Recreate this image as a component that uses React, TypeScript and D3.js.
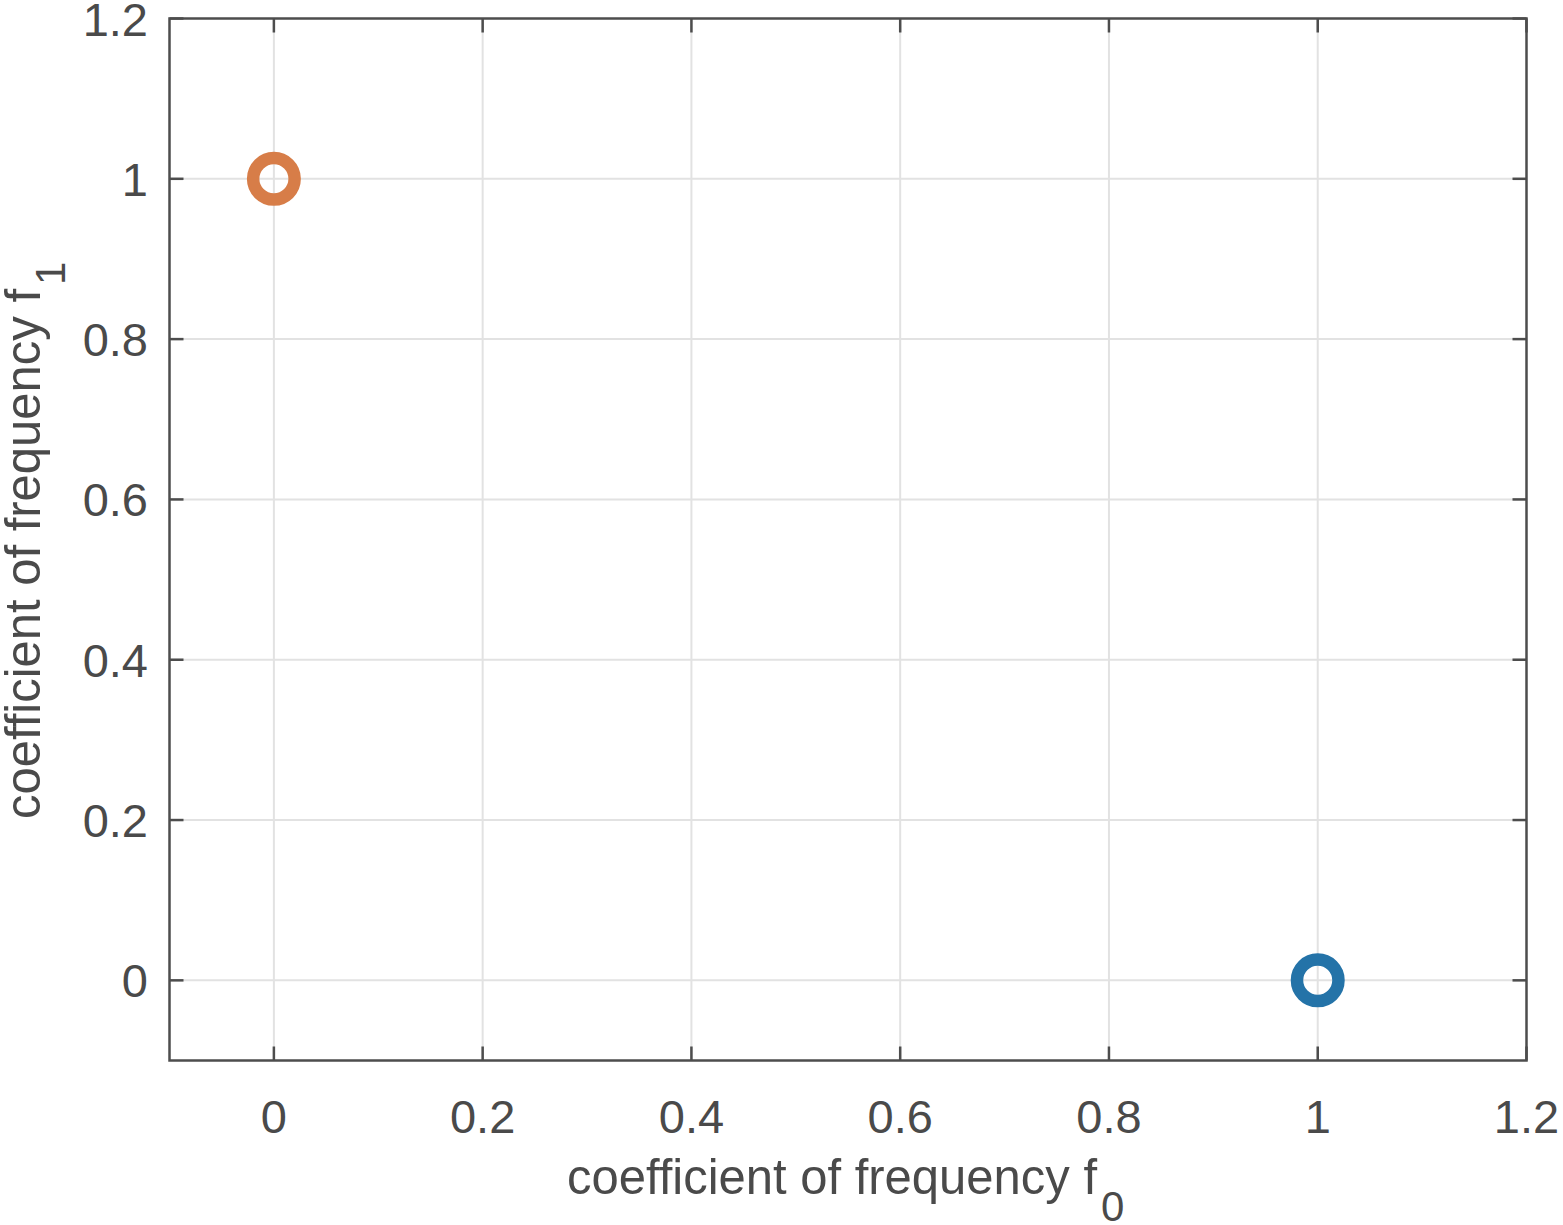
import React from "react";
import * as d3 from "d3";

const pointsX = [1, 0];
const pointsY = [0, 1];
const pointColors = ["#2473A8", "#D77D48"];
const xTicks = [0, 0.2, 0.4, 0.6, 0.8, 1, 1.2];
const yTicks = [0, 0.2, 0.4, 0.6, 0.8, 1, 1.2];
const xDomain = [-0.1, 1.2];
const yDomain = [-0.1, 1.2];
const xLabelMain = "coefficient of frequency f";
const xLabelSub = "0";
const yLabelMain = "coefficient of frequency f";
const yLabelSub = "1";

export default function App() {
  const W = 1563, H = 1225;
  const L = 169.5, R = 1526.5, T = 18.5, B = 1060.5;
  const x = d3.scaleLinear().domain(xDomain).range([L, R]);
  const y = d3.scaleLinear().domain(yDomain).range([B, T]);
  const axisColor = "#4d4d4d";
  const textColor = "#4a4a4a";
  const font = "'Liberation Sans', Arial, Helvetica, sans-serif";
  const fmt = (v: number) => String(v);
  const tickLen = 14;
  const labelLen = 530;
  return (
    <svg width={W} height={H} style={{ position: "absolute", left: 0, top: 0, display: "block" }}>
      <rect x={0} y={0} width={W} height={H} fill="white" />
      {xTicks.filter(t => t >= xDomain[0] && t < xDomain[1]).map(t => (
        <line key={"gx" + t} x1={x(t)} x2={x(t)} y1={T} y2={B} stroke="#e2e2e2" strokeWidth={2} />
      ))}
      {yTicks.filter(t => t > yDomain[0] && t < yDomain[1]).map(t => (
        <line key={"gy" + t} x1={L} x2={R} y1={y(t)} y2={y(t)} stroke="#e2e2e2" strokeWidth={2} />
      ))}
      {xTicks.map(t => (
        <g key={"tx" + t}>
          <line x1={x(t)} x2={x(t)} y1={B} y2={B - tickLen} stroke={axisColor} strokeWidth={2.5} />
          <line x1={x(t)} x2={x(t)} y1={T} y2={T + tickLen} stroke={axisColor} strokeWidth={2.5} />
          <text x={x(t)} y={1133} textAnchor="middle" fontFamily={font} fontSize={47} fill={textColor}>{fmt(t)}</text>
        </g>
      ))}
      {yTicks.map(t => (
        <g key={"ty" + t}>
          <line x1={L} x2={L + tickLen} y1={y(t)} y2={y(t)} stroke={axisColor} strokeWidth={2.5} />
          <line x1={R} x2={R - tickLen} y1={y(t)} y2={y(t)} stroke={axisColor} strokeWidth={2.5} />
          <text x={148} y={y(t) + 17} textAnchor="end" fontFamily={font} fontSize={47} fill={textColor}>{fmt(t)}</text>
        </g>
      ))}
      <rect x={L} y={T} width={R - L} height={B - T} fill="none" stroke={axisColor} strokeWidth={2.5} />
      {pointsX.map((px, i) => (
        <circle key={"p" + i} cx={x(px)} cy={y(pointsY[i])} r={20.75} fill="none" stroke={pointColors[i]} strokeWidth={12.5} />
      ))}
      <g fill={textColor} fontFamily={font}>
        <text x={567} y={1194} fontSize={49.5} textLength={labelLen} lengthAdjust="spacingAndGlyphs">{xLabelMain}</text>
        <text x={567 + labelLen + 4} y={1221} fontSize={42}>{xLabelSub}</text>
        <g transform="translate(40,819) rotate(-90)">
          <text x={0} y={0} fontSize={49.5} textLength={labelLen} lengthAdjust="spacingAndGlyphs">{yLabelMain}</text>
          <text x={labelLen + 4} y={25} fontSize={42}>{yLabelSub}</text>
        </g>
      </g>
    </svg>
  );
}
